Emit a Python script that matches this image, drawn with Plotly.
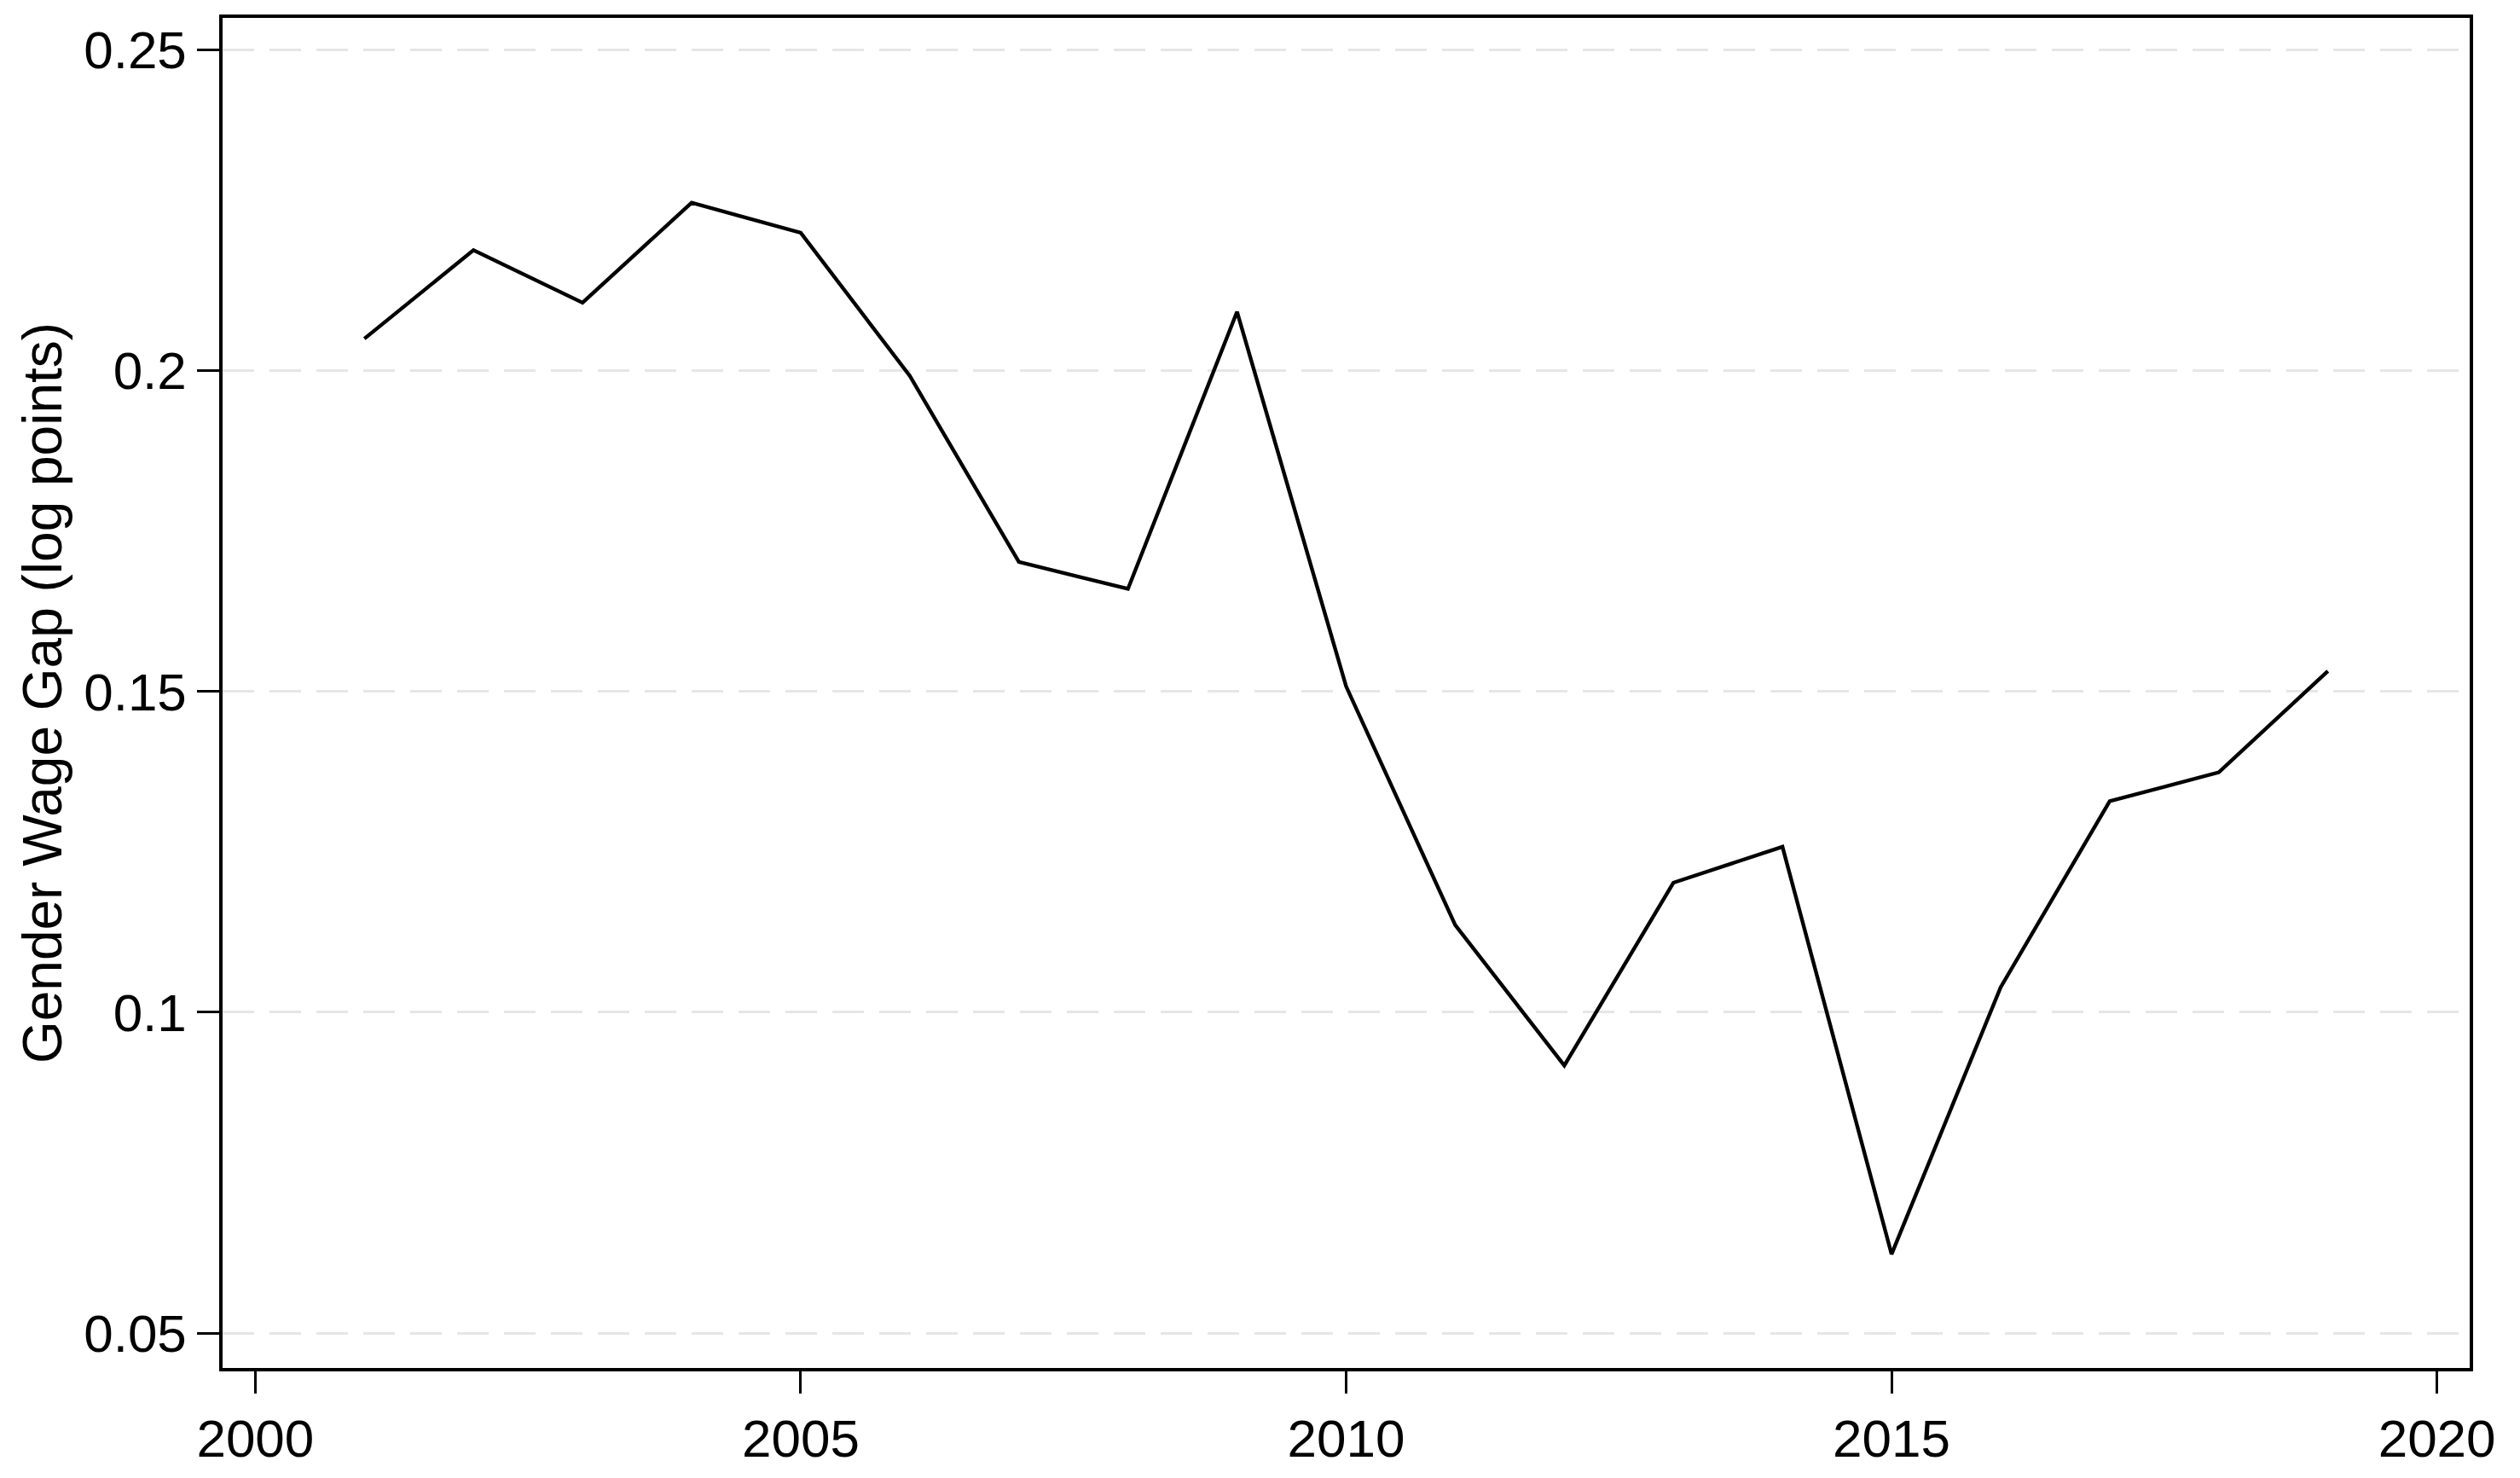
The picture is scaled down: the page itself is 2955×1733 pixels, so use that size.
import plotly.graph_objects as go

years = [2001, 2002, 2003, 2004, 2005, 2006, 2007, 2008, 2009, 2010,
         2011, 2012, 2013, 2014, 2015, 2016, 2017, 2018, 2019]
wage_gap = [0.2050, 0.2188, 0.2106, 0.2262, 0.2215, 0.1992, 0.1702, 0.1660, 0.2092, 0.1508,
            0.1136, 0.0917, 0.1202, 0.1258, 0.0623, 0.1039, 0.1329, 0.1374, 0.1532]

x_ticks = [2000, 2005, 2010, 2015, 2020]
y_ticks = [0.05, 0.10, 0.15, 0.20, 0.25]
y_tick_labels = ["0.05", "0.1", "0.15", "0.2", "0.25"]
y_title = "Gender Wage Gap (log points)"

FONT = "Liberation Sans, Arial, Helvetica, sans-serif"

fig = go.Figure()
fig.add_trace(go.Scatter(
    x=years, y=wage_gap, mode="lines",
    line=dict(color="black", width=4.4),
    showlegend=False, hoverinfo="x+y",
))

fig.update_layout(
    width=2955, height=1733,
    margin=dict(l=261, r=59, t=21, b=125, pad=0),
    paper_bgcolor="white", plot_bgcolor="white",
    font=dict(family=FONT, size=62, color="black"),
    showlegend=False,
)

fig.update_xaxes(
    range=[1999.70, 2020.30],
    tickmode="array", tickvals=x_ticks, ticktext=[str(v) for v in x_ticks],
    ticks="outside", ticklen=26, tickwidth=3, tickcolor="black",
    showline=True, linecolor="black", linewidth=3.5, mirror=True,
    showgrid=False, zeroline=False,
    tickfont=dict(family=FONT, size=62, color="black"),
)

fig.update_yaxes(
    range=[0.04456, 0.2550],
    tickmode="array", tickvals=y_ticks, ticktext=y_tick_labels,
    ticks="outside", ticklen=26, tickwidth=3, tickcolor="black",
    showline=True, linecolor="black", linewidth=3.5, mirror=True,
    showgrid=True, gridcolor="#e6e6e6", gridwidth=3, griddash="37px,18px",
    zeroline=False,
    tickfont=dict(family=FONT, size=62, color="black"),
    title=dict(text=y_title, font=dict(family=FONT, size=64, color="black"), standoff=6),
)

fig.write_html("out.html", config={"displayModeBar": False},
               post_script="document.body.style.margin='0';")
